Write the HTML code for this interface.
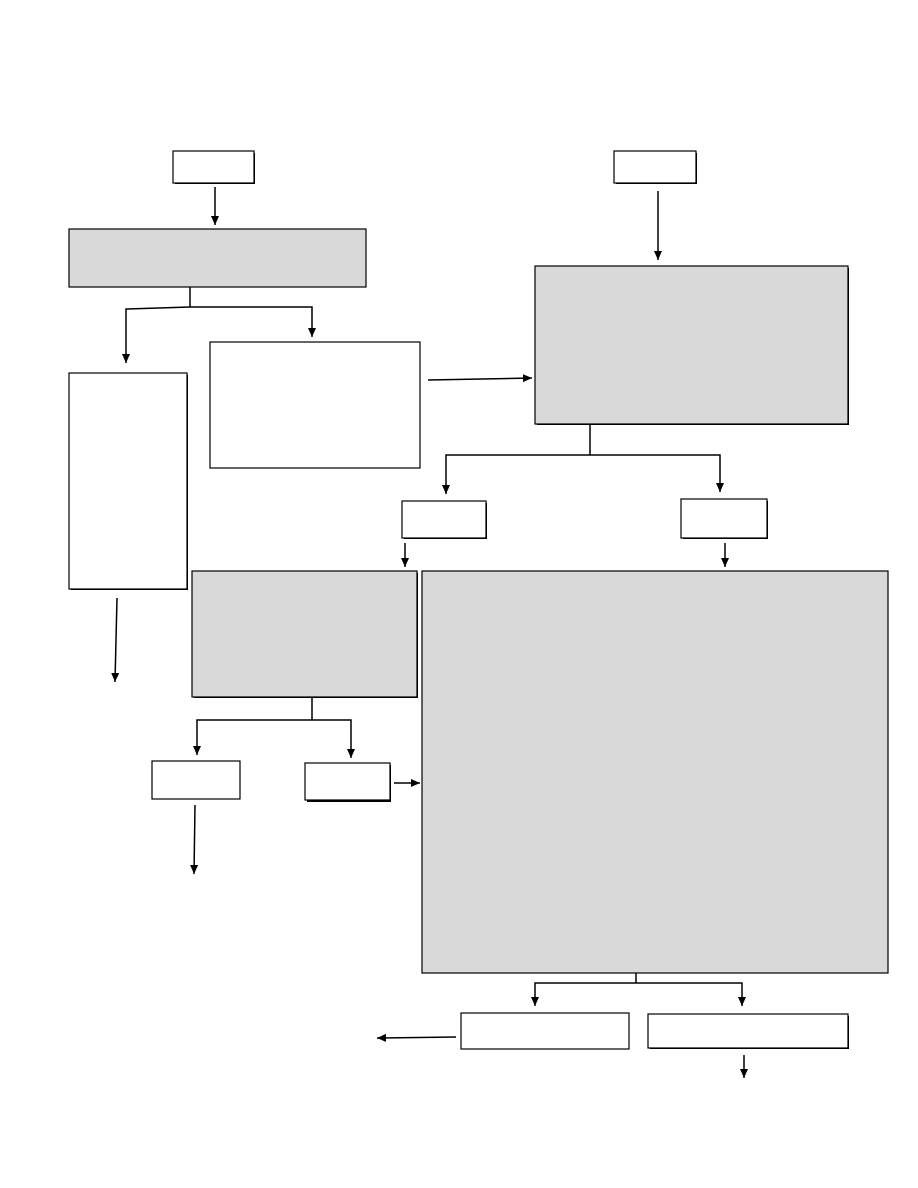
<!DOCTYPE html>
<html><head><meta charset="utf-8"><style>
html,body{margin:0;padding:0;background:#fff;}
svg{display:block;}
</style></head><body>
<svg width="918" height="1188" viewBox="0 0 918 1188" xmlns="http://www.w3.org/2000/svg">
<defs>
<marker id="a" markerWidth="10" markerHeight="10" refX="9" refY="5" orient="auto" markerUnits="userSpaceOnUse">
<path d="M0,1 L9,5 L0,9 z" fill="#000"/></marker>
</defs>
<g stroke="#000" stroke-width="1.2">
<!-- shadows -->
<g fill="#000" stroke="none">
<rect x="175" y="153" width="80" height="31"/>
<rect x="616" y="153" width="81" height="31"/>
<rect x="404" y="503" width="83" height="36"/>
<rect x="683" y="501" width="85" height="38"/>
<rect x="307" y="765" width="84" height="37"/>
<rect x="650" y="1016" width="199" height="33"/>
<rect x="537" y="268" width="312" height="157"/>
<rect x="194" y="573" width="224" height="125"/>
<rect x="71" y="375" width="117" height="215"/>
</g>
<rect x="173" y="151" width="81" height="32" fill="#fff"/>
<rect x="614" y="151" width="82" height="32" fill="#fff"/>
<rect x="69" y="229" width="297" height="58" fill="#d9d9d9"/>
<rect x="535" y="266" width="313" height="158" fill="#d9d9d9"/>
<rect x="210" y="342" width="210" height="126" fill="#fff"/>
<rect x="69" y="373" width="118" height="216" fill="#fff"/>
<rect x="402" y="501" width="84" height="37" fill="#fff"/>
<rect x="681" y="499" width="86" height="39" fill="#fff"/>
<rect x="192" y="571" width="225" height="126" fill="#d9d9d9"/>
<rect x="422" y="571" width="466" height="402" fill="#d9d9d9"/>
<rect x="152" y="761" width="88" height="38" fill="#fff"/>
<rect x="305" y="763" width="85" height="37" fill="#fff"/>
<rect x="461" y="1013" width="168" height="36" fill="#fff"/>
<rect x="648" y="1014" width="200" height="34" fill="#fff"/>
</g>
<g stroke="#000" stroke-width="1.5" fill="none">
<line x1="215" y1="187" x2="215" y2="225" marker-end="url(#a)"/>
<line x1="658" y1="191" x2="658" y2="260" marker-end="url(#a)"/>
<polyline points="190,287 190,307"/>
<polyline points="190,307 126,309 126,363" marker-end="url(#a)"/>
<polyline points="190,307 312,307 312,337" marker-end="url(#a)"/>
<line x1="428" y1="380" x2="532" y2="378" marker-end="url(#a)"/>
<polyline points="590,424 590,455"/>
<polyline points="590,455 446,455 446,494" marker-end="url(#a)"/>
<polyline points="590,455 720,455 720,492" marker-end="url(#a)"/>
<line x1="405" y1="543" x2="405" y2="567" marker-end="url(#a)"/>
<line x1="725" y1="543" x2="725" y2="567" marker-end="url(#a)"/>
<line x1="117" y1="598" x2="115" y2="682" marker-end="url(#a)"/>
<polyline points="312,697 312,720"/>
<polyline points="312,720 197,720 197,755" marker-end="url(#a)"/>
<polyline points="312,720 351,720 351,758" marker-end="url(#a)"/>
<line x1="394" y1="783" x2="420" y2="783" marker-end="url(#a)"/>
<line x1="195" y1="805" x2="194" y2="874" marker-end="url(#a)"/>
<polyline points="636,973 636,983"/>
<polyline points="636,983 535,983 535,1006" marker-end="url(#a)"/>
<polyline points="636,983 742,983 742,1006" marker-end="url(#a)"/>
<line x1="456" y1="1037" x2="377" y2="1038" marker-end="url(#a)"/>
<line x1="744" y1="1055" x2="744" y2="1078" marker-end="url(#a)"/>
</g>
</svg>
</body></html>
